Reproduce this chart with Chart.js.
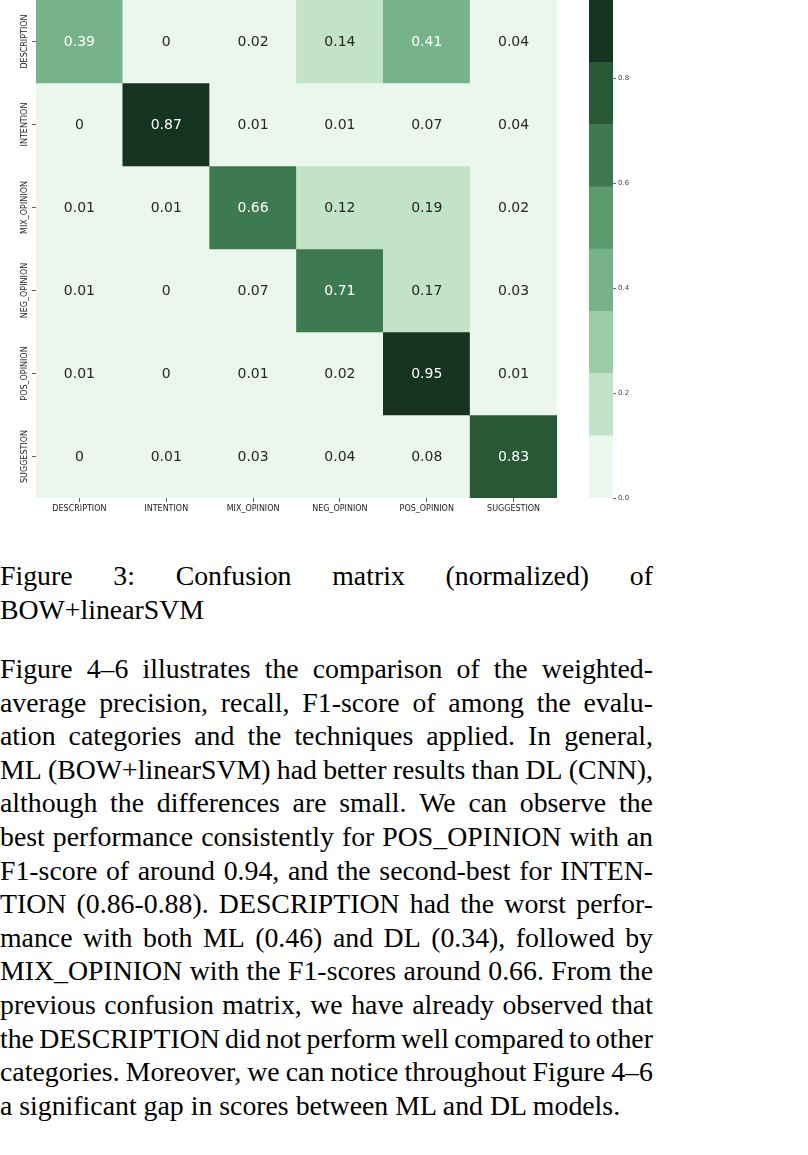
<!DOCTYPE html>
<html>
<head>
<meta charset="utf-8">
<script src="https://cdn.jsdelivr.net/npm/chart.js@4.4.1/dist/chart.umd.min.js"></script>
<style>
  html,body{margin:0;padding:0;background:#fff;}
  body{width:808px;height:1155px;position:relative;overflow:hidden;}
  #hmWrap{position:absolute;left:0;top:0;width:560px;height:520px;}
  #cbWrap{position:absolute;left:589px;top:0;width:60px;height:510px;}
  .txt{position:absolute;left:0;width:653px;font-family:"Liberation Serif","Times New Roman",serif;font-size:27.8px;line-height:33.6px;color:#000;}
  .txt > div{white-space:nowrap;height:33.6px;}
  .j{display:flex;justify-content:space-between;}
</style>
</head>
<body>
<div id="hmWrap"><canvas id="hm"></canvas></div>
<div id="cbWrap"><canvas id="cb"></canvas></div>

<div class="txt" style="top:559px;">
  <div class="j">Figure 3: Confusion matrix (normalized) of</div>
  <div>BOW+linearSVM</div>
</div>

<div class="txt" style="top:652px;">
  <div class="j">Figure 4–6 illustrates the comparison of the weighted-</div>
  <div class="j">average precision, recall, F1-score of among the evalu-</div>
  <div class="j">ation categories and the techniques applied. In general,</div>
  <div class="j">ML (BOW+linearSVM) had better results than DL (CNN),</div>
  <div class="j">although the differences are small. We can observe the</div>
  <div class="j">best performance consistently for POS_OPINION with an</div>
  <div class="j">F1-score of around 0.94, and the second-best for INTEN-</div>
  <div class="j">TION (0.86-0.88). DESCRIPTION had the worst perfor-</div>
  <div class="j">mance with both ML (0.46) and DL (0.34), followed by</div>
  <div class="j">MIX_OPINION with the F1-scores around 0.66. From the</div>
  <div class="j">previous confusion matrix, we have already observed that</div>
  <div class="j">the DESCRIPTION did not perform well compared to other</div>
  <div class="j">categories. Moreover, we can notice throughout Figure 4–6</div>
  <div>a significant gap in scores between ML and DL models.</div>
</div>

<script>
// split justified lines into word spans
document.querySelectorAll('.j').forEach(el => {
  const words = el.textContent.trim().split(/\s+/);
  el.textContent = '';
  words.forEach(w => { const s = document.createElement('span'); s.textContent = w; el.appendChild(s); });
});

// ---- Data ----
const categories = ["DESCRIPTION", "INTENTION", "MIX_OPINION", "NEG_OPINION", "POS_OPINION", "SUGGESTION"];
const rowDescription = [0.39, 0, 0.02, 0.14, 0.41, 0.04];
const rowIntention   = [0, 0.87, 0.01, 0.01, 0.07, 0.04];
const rowMixOpinion  = [0.01, 0.01, 0.66, 0.12, 0.19, 0.02];
const rowNegOpinion  = [0.01, 0, 0.07, 0.71, 0.17, 0.03];
const rowPosOpinion  = [0.01, 0, 0.01, 0.02, 0.95, 0.01];
const rowSuggestion  = [0, 0.01, 0.03, 0.04, 0.08, 0.83];
const colorbarTicks  = [0, 0.2, 0.4, 0.6, 0.8];
const colorbarMax    = 0.95;
const binColors = ["#ebf6ec", "#c2e3c8", "#9ccba6", "#77b388", "#5a9a6c", "#3e7a4f", "#285934", "#16331f"];

const rows = [rowDescription, rowIntention, rowMixOpinion, rowNegOpinion, rowPosOpinion, rowSuggestion];
const nBins = binColors.length;
const binSize = colorbarMax / nBins;

function binIndex(v) {
  let i = Math.floor(v / binSize + 1e-9);
  return Math.max(0, Math.min(nBins - 1, i));
}
function colorFor(v) { return binColors[binIndex(v)]; }
function luminance(hex) {
  const c = [1,3,5].map(i => parseInt(hex.substr(i,2),16)/255)
    .map(x => x <= 0.03928 ? x/12.92 : Math.pow((x+0.055)/1.055, 2.4));
  return 0.2126*c[0] + 0.7152*c[1] + 0.0722*c[2];
}

Chart.defaults.font.family = "'DejaVu Sans', sans-serif";
Chart.defaults.animation = false;

// ---- Heatmap ----
const annotPlugin = {
  id: 'annot',
  afterDatasetsDraw(chart) {
    const ctx = chart.ctx;
    ctx.save();
    ctx.font = "14px 'DejaVu Sans', sans-serif";
    ctx.textAlign = 'center';
    ctx.textBaseline = 'middle';
    chart.data.datasets.forEach((ds, r) => {
      const meta = chart.getDatasetMeta(r);
      meta.data.forEach((bar, c) => {
        const v = rows[r][c];
        const col = colorFor(v);
        ctx.fillStyle = luminance(col) > 0.408 ? '#262626' : '#ffffff';
        const cy = (bar.y + bar.base) / 2;
        ctx.fillText(String(v), bar.x, cy + 1);
      });
    });
    ctx.restore();
  }
};
const yLabelPlugin = {
  id: 'ylabels',
  afterDraw(chart) {
    const ctx = chart.ctx;
    const ys = chart.scales.y;
    ctx.save();
    ctx.font = "8px 'DejaVu Sans', sans-serif";
    ctx.fillStyle = '#222';
    ctx.textAlign = 'center';
    ctx.textBaseline = 'middle';
    categories.forEach((lab, i) => {
      const py = ys.getPixelForValue(i + 0.5);
      ctx.save();
      ctx.translate(ys.right - 11, py);
      ctx.rotate(-Math.PI / 2);
      ctx.fillText(lab, 0, 0);
      ctx.restore();
    });
    ctx.restore();
  }
};

new Chart(document.getElementById('hm'), {
  type: 'bar',
  data: {
    labels: categories,
    datasets: rows.map((vals, r) => ({
      label: categories[r],
      data: vals.map(() => [r, r + 1]),
      backgroundColor: vals.map(colorFor),
      borderWidth: 0,
      grouped: false,
      barPercentage: 1,
      categoryPercentage: 1
    }))
  },
  options: {
    responsive: true,
    maintainAspectRatio: false,
    devicePixelRatio: 1,
    layout: { padding: { left: 0, right: 3, top: 0, bottom: 0 } },
    plugins: { legend: { display: false }, tooltip: { enabled: false } },
    scales: {
      x: {
        type: 'category',
        offset: true,
        grid: { display: true, offset: false, drawOnChartArea: false, tickLength: 4, color: '#333', tickWidth: 0.8 },
        border: { display: false },
        ticks: { font: { size: 8 }, color: '#222', padding: 2, maxRotation: 0, minRotation: 0, autoSkip: false },
        afterFit(s) { s.height = 22; s.paddingLeft = 0; s.paddingRight = 0; }
      },
      y: {
        type: 'linear',
        min: 0, max: 6, reverse: true,
        afterBuildTicks(s) { s.ticks = categories.map((_, i) => ({ value: i + 0.5 })); },
        grid: { display: true, drawOnChartArea: false, tickLength: 4, color: '#333', tickWidth: 0.8 },
        border: { display: false },
        ticks: { display: false },
        afterFit(s) { s.width = 36; s.paddingTop = 0; s.paddingBottom = 0; }
      }
    }
  },
  plugins: [annotPlugin, yLabelPlugin]
});

// ---- Colorbar ----
new Chart(document.getElementById('cb'), {
  type: 'bar',
  data: {
    labels: [''],
    datasets: binColors.map((c, i) => ({
      data: [[i * binSize, (i + 1) * binSize]],
      backgroundColor: c,
      borderWidth: 0,
      grouped: false,
      barPercentage: 1,
      categoryPercentage: 1
    }))
  },
  options: {
    responsive: true,
    maintainAspectRatio: false,
    devicePixelRatio: 1,
    layout: { padding: { left: 0, right: 0, top: 0, bottom: 12 } },
    plugins: { legend: { display: false }, tooltip: { enabled: false } },
    scales: {
      x: { display: false },
      y: {
        position: 'right',
        min: 0, max: colorbarMax,
        afterBuildTicks(s) { s.ticks = colorbarTicks.map(v => ({ value: v })); },
        grid: { display: true, drawOnChartArea: false, tickLength: 3, color: '#444', tickWidth: 0.8 },
        border: { display: false },
        ticks: { font: { size: 7 }, color: '#444', padding: 2, callback: v => v.toFixed(1) },
        afterFit(s) { s.width = 36; s.paddingTop = 0; s.paddingBottom = 0; }
      }
    }
  }
});
</script>
</body>
</html>
